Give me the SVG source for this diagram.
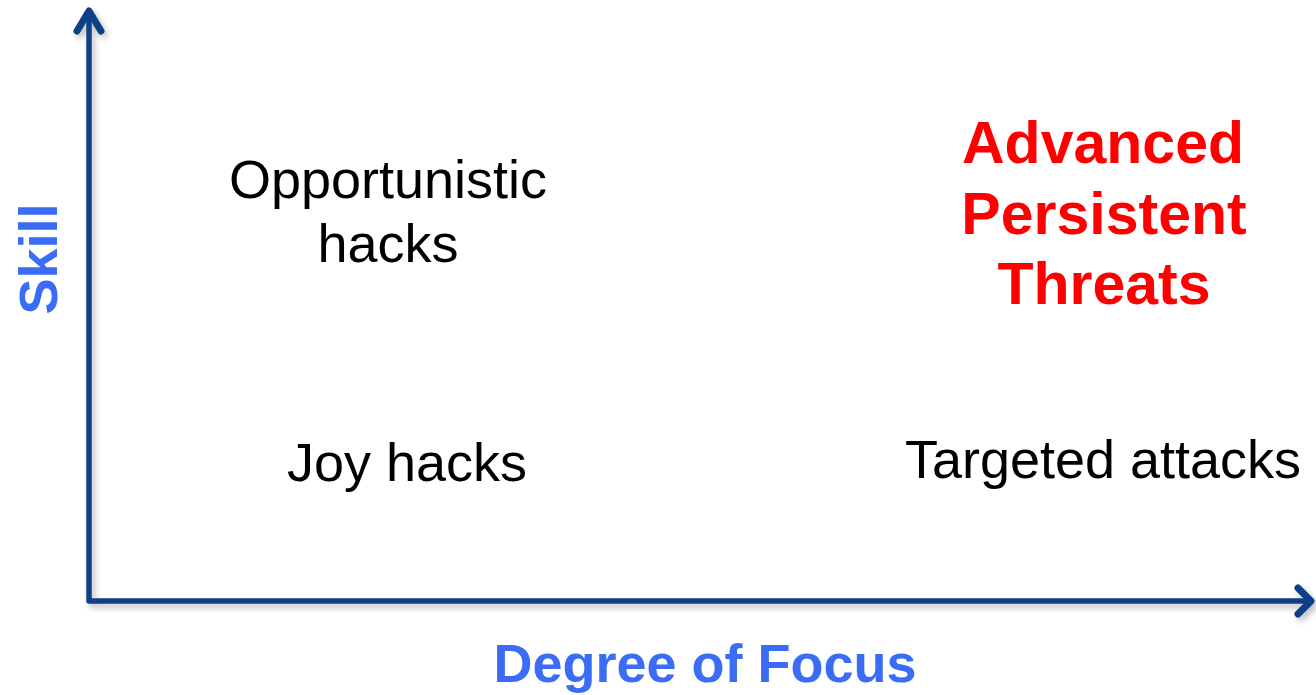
<svg xmlns="http://www.w3.org/2000/svg" width="1316" height="695" viewBox="0 0 1316 695">
<defs>
<filter id="sh" x="-5%" y="-5%" width="110%" height="110%">
<feGaussianBlur in="SourceAlpha" stdDeviation="3"/>
<feOffset dx="3" dy="4" result="b"/>
<feComponentTransfer><feFuncA type="linear" slope="0.25"/></feComponentTransfer>
<feMerge><feMergeNode/><feMergeNode in="SourceGraphic"/></feMerge>
</filter>
<style>
.ax{fill:none;stroke:#0b4186;stroke-width:5.5;stroke-linecap:round;stroke-linejoin:round}
.ah{fill:none;stroke:#0b4186;stroke-width:7;stroke-linecap:round;stroke-linejoin:round}
.t{font-family:"Liberation Sans",Arial,sans-serif;font-size:54px;fill:#000;text-anchor:middle}
.r{font-family:"Liberation Sans",Arial,sans-serif;font-size:59px;font-weight:bold;fill:#ff0000;text-anchor:middle}
.b{font-family:"Liberation Sans",Arial,sans-serif;font-size:54px;font-weight:bold;fill:#3a6cf5;text-anchor:middle}
</style>
</defs>
<rect width="1316" height="695" fill="#fff"/>
<g id="connectors" filter="url(#sh)">
<path class="ax" d="M89,12 V601 H1309"/>
<path class="ah" d="M77,31 L89,11 L101,31"/>
<path class="ah" d="M1298,588 L1311,601 L1298,614"/>
</g>
<g id="opportunistic"><text class="t" x="388" y="198">Opportunistic</text><text class="t" x="388" y="262">hacks</text></g>
<g id="apt"><text class="r" x="1103" y="163">Advanced</text><text class="r" x="1104" y="234">Persistent</text><text class="r" x="1104" y="304">Threats</text></g>
<g id="joy"><text class="t" x="407" y="481">Joy hacks</text></g>
<g id="targeted"><text class="t" x="1103" y="478">Targeted attacks</text></g>
<g id="xlabel"><text class="b" x="705" y="682">Degree of Focus</text></g>
<g id="ylabel"><text class="b" transform="translate(57,259) rotate(-90)" x="0" y="0">Skill</text></g>
</svg>
